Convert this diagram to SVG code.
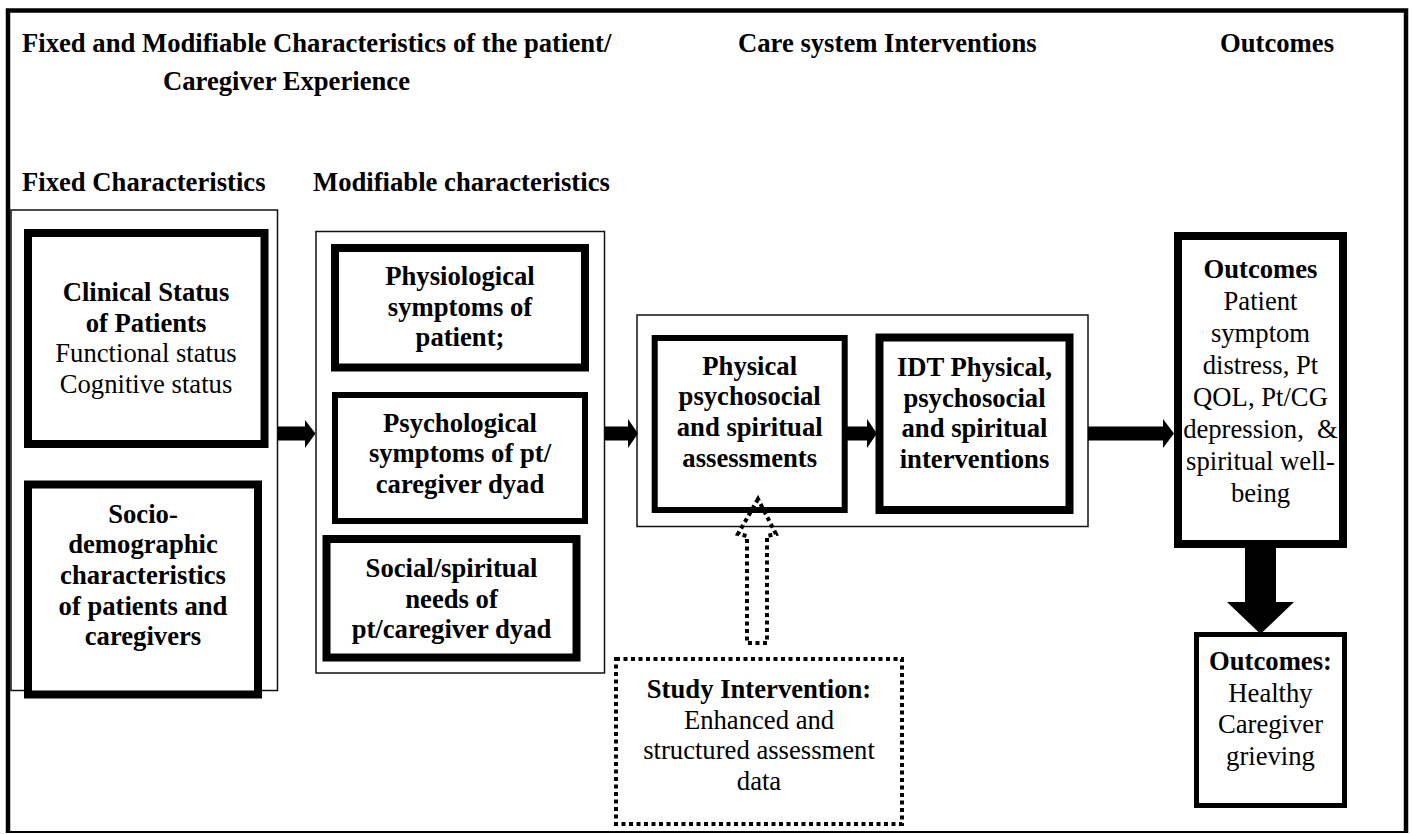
<svg xmlns="http://www.w3.org/2000/svg" width="1412" height="835" viewBox="0 0 1412 835">
<style>
text{font-family:"Liberation Serif","Times New Roman",serif;font-size:26.67px;fill:#000}
.b{font-weight:bold}
.c{text-anchor:middle}
.thin{fill:none;stroke:#111;stroke-width:1.5}
.thick{fill:#fff;stroke:#000;stroke-width:8}
.mid{fill:#fff;stroke:#000;stroke-width:6}
.dot{fill:none;stroke:#000;stroke-width:4;stroke-dasharray:4 3.5}
.arr{fill:#000;stroke:none}
</style>
<rect width="1412" height="835" fill="#fff"/>
<g id="frame">
<path d="M8,833 V10.5 H1406 V833" fill="none" stroke="#000" stroke-width="4.5"/>
<line x1="8" y1="832" x2="1406" y2="832" stroke="#000" stroke-width="2"/>
</g>
<g id="headers">
<text class="b" x="22" y="52">Fixed and Modifiable Characteristics of the patient/</text>
<text class="b" x="163" y="90">Caregiver Experience</text>
<text class="b" x="738" y="52">Care system Interventions</text>
<text class="b" x="1220" y="52">Outcomes</text>
<text class="b" x="22" y="191">Fixed Characteristics</text>
<text class="b" x="313" y="191">Modifiable characteristics</text>
</g>
<g id="fixed-group"><rect class="thin" x="11" y="210" width="266.5" height="480.5"/></g>
<g id="modifiable-group"><rect class="thin" x="316" y="231.5" width="288.5" height="441.5"/></g>
<g id="care-group"><rect class="thin" x="637" y="315" width="451" height="211.5"/></g>
<g id="clinical">
<rect class="thick" x="28" y="233" width="236.5" height="211"/>
<text class="c" x="146" y="301"><tspan class="b">Clinical Status</tspan><tspan class="b" x="146" dy="30.7">of Patients</tspan><tspan x="146" dy="30.7">Functional status</tspan><tspan x="146" dy="30.7">Cognitive status</tspan></text>
</g>
<g id="socio">
<rect class="thick" x="28" y="484.5" width="230" height="210"/>
<text class="b c" x="143" y="522.5">Socio-<tspan x="143" dy="30.7">demographic</tspan><tspan x="143" dy="30.7">characteristics</tspan><tspan x="143" dy="30.7">of patients and</tspan><tspan x="143" dy="30.7">caregivers</tspan></text>
</g>
<g id="physiological">
<rect class="thick" x="335" y="248" width="250" height="119.5"/>
<text class="b c" x="460" y="285">Physiological<tspan x="460" dy="30.7">symptoms of</tspan><tspan x="460" dy="30.7">patient;</tspan></text>
</g>
<g id="psychological">
<rect class="mid" x="335" y="395" width="250" height="126"/>
<text class="b c" x="460" y="431.5">Psychological<tspan x="460" dy="30.7">symptoms of pt/</tspan><tspan x="460" dy="30.7">caregiver dyad</tspan></text>
</g>
<g id="social">
<rect class="thick" x="326.5" y="539" width="250" height="118.5"/>
<text class="b c" x="451.5" y="577">Social/spiritual<tspan x="451.5" dy="30.7">needs of</tspan><tspan x="451.5" dy="30.7">pt/caregiver dyad</tspan></text>
</g>
<g id="assessments">
<rect class="mid" x="654.7" y="338" width="190" height="172"/>
<text class="b c" x="749.7" y="374.5">Physical<tspan x="749.7" dy="30.7">psychosocial</tspan><tspan x="749.7" dy="30.7">and spiritual</tspan><tspan x="749.7" dy="30.7">assessments</tspan></text>
</g>
<g id="idt">
<rect class="thick" x="879.5" y="337.5" width="190" height="172.5"/>
<text class="b c" x="974.5" y="376">IDT Physical,<tspan x="974.5" dy="30.7">psychosocial</tspan><tspan x="974.5" dy="30.7">and spiritual</tspan><tspan x="974.5" dy="30.7">interventions</tspan></text>
</g>
<g id="outcomes">
<rect class="thick" x="1178" y="236" width="165" height="308"/>
<text class="c" x="1260.5" y="278"><tspan class="b">Outcomes</tspan><tspan x="1260.5" dy="32">Patient</tspan><tspan x="1260.5" dy="32">symptom</tspan><tspan x="1260.5" dy="32">distress, Pt</tspan><tspan x="1260.5" dy="32">QOL, Pt/CG</tspan><tspan x="1260.5" dy="32" xml:space="preserve">depression,  &amp;</tspan><tspan x="1260.5" dy="32">spiritual well-</tspan><tspan x="1260.5" dy="32">being</tspan></text>
</g>
<g id="outcomes-caregiver">
<rect fill="#fff" stroke="#000" stroke-width="5" x="1196.5" y="634.5" width="148" height="171"/>
<text class="c" x="1270.5" y="670"><tspan class="b">Outcomes:</tspan><tspan x="1270.5" dy="31.5">Healthy</tspan><tspan x="1270.5" dy="31.5">Caregiver</tspan><tspan x="1270.5" dy="31.5">grieving</tspan></text>
</g>
<g id="study-intervention">
<rect class="dot" x="616" y="659" width="286" height="165"/>
<text class="c" x="759" y="698"><tspan class="b">Study Intervention:</tspan><tspan x="759" dy="30.5">Enhanced and</tspan><tspan x="759" dy="30.5">structured assessment</tspan><tspan x="759" dy="30.5">data</tspan></text>
</g>
<g id="connectors">
<path class="arr" d="M277.5,426.5 H305 V420 L315.5,433.5 L305,448 V440.5 H277.5 Z"/>
<path class="arr" d="M604.5,426.5 H628 V419 L638,433.5 L628,448 V440.5 H604.5 Z"/>
<path class="arr" d="M847,426.5 H867 V419 L877,433.5 L867,448 V440.5 H847 Z"/>
<path class="arr" d="M1088,426.5 H1163 V419 L1174,433.5 L1163,448 V440.5 H1088 Z"/>
<path class="arr" d="M1245,544 H1276 V602 H1294 L1260.5,634 L1227,602 H1245 Z"/>
<path class="dot" stroke-width="3.5" d="M758,499 L738,534 L747,536 L747,643 L767,643 L767,536 L776,534 Z"/>
</g>
</svg>
